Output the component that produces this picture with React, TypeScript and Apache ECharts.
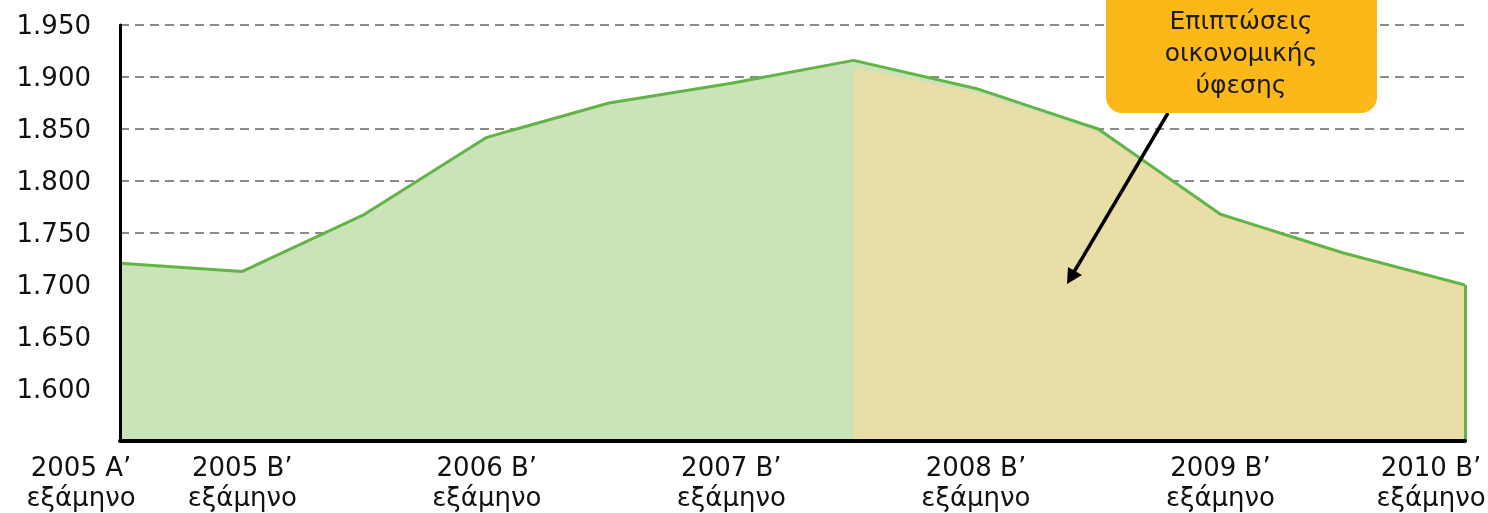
import React, { useEffect, useRef } from "react";
import * as echarts from "echarts";

const categories = [
  "2005 A’", "2005 B’", "2006 A’", "2006 B’", "2007 A’", "2007 B’",
  "2008 A’", "2008 B’", "2009 A’", "2009 B’", "2010 A’", "2010 B’",
];
const shownLabels = [0, 1, 3, 5, 7, 9, 11];
const mainValues = [1721, 1713, 1768, 1842, 1875, 1894, 1916, 1889, 1850, 1768, 1731, 1700];
const recessionValues = [null, null, null, null, null, null, 1909, 1885, 1847, 1768, 1731, 1700];
const yTicks = { min: 1550, max: 1950, interval: 50 };
const annotationLines = ["Επιπτώσεις", "οικονομικής", "ύφεσης"];

const FONT = "'DejaVu Sans', sans-serif";

function fmt(v: number) {
  const th = Math.floor(v / 1000);
  const rest = String(v % 1000).padStart(3, "0");
  return th + "." + rest;
}

export default function App() {
  const ref = useRef<HTMLDivElement>(null);
  useEffect(() => {
    if (!ref.current) return;
    const chart = echarts.init(ref.current, null, { renderer: "svg" });
    const last = categories.length - 1;
    const lbl = { fontFamily: FONT, fontSize: 26, color: "#111", lineHeight: 30 };
    chart.setOption({
      animation: false,
      grid: { left: 120, right: 23, top: 25, bottom: 72, outerBoundsMode: "none", containLabel: false },
      xAxis: [
        {
          type: "category",
          data: categories,
          boundaryGap: false,
          axisLine: { show: false },
          axisTick: { show: false },
          axisLabel: {
            interval: 0,
            hideOverlap: false,
            margin: 11,
            ...lbl,
            formatter: (v: string, i: number) => {
              if (!shownLabels.includes(i)) return "";
              if (i === 0) return "{first|" + v + "}\n{first|εξάμηνο}";
              if (i === last) return "{last|" + v + "}\n{last|εξάμηνο}";
              return "{mid|" + v + "}\n{mid|εξάμηνο}";
            },
            rich: {
              first: { ...lbl, padding: [0, 78, 0, 0] },
              last: { ...lbl, padding: [0, 68, 0, 0] },
              mid: { ...lbl },
            },
          },
          splitLine: { show: false },
        },
        {
          type: "category",
          data: categories,
          boundaryGap: false,
          position: "bottom",
          z: 10,
          axisLine: { show: true, lineStyle: { color: "#000", width: 4 } },
          axisTick: { show: false },
          axisLabel: { show: false },
          splitLine: { show: false },
        },
      ],
      yAxis: [
        {
          type: "value",
          min: yTicks.min,
          max: yTicks.max,
          interval: yTicks.interval,
          axisLine: { show: false },
          axisTick: { show: false },
          axisLabel: {
            showMinLabel: false,
            margin: 29,
            fontFamily: FONT,
            fontSize: 26,
            color: "#111",
            formatter: (v: number) => (v === yTicks.min ? "" : fmt(v)),
          },
          splitLine: { show: true, lineStyle: { color: "#8a8a8a", width: 2, type: [9, 6] } },
        },
        {
          type: "value",
          min: yTicks.min,
          max: yTicks.max,
          interval: yTicks.interval,
          position: "left",
          z: 10,
          axisLine: { show: true, lineStyle: { color: "#000", width: 3 } },
          axisTick: { show: false },
          axisLabel: { show: false },
          splitLine: { show: false },
        },
      ],
      series: [
        {
          type: "line",
          data: mainValues,
          symbol: "none",
          lineStyle: { width: 0 },
          areaStyle: { color: "#cbe3b9", opacity: 1, origin: "start" },
          z: 2,
        },
        {
          type: "line",
          data: recessionValues,
          symbol: "none",
          lineStyle: { width: 0 },
          areaStyle: { color: "#e9dea8", opacity: 1, origin: "start" },
          z: 3,
        },
        {
          type: "line",
          data: mainValues,
          symbol: "none",
          lineStyle: { width: 3, color: "#62b447" },
          z: 4,
          markLine: {
            silent: true,
            symbol: "none",
            label: { show: false },
            lineStyle: { color: "#62b447", width: 3, type: "solid" },
            data: [[{ coord: [last, yTicks.min] }, { coord: [last, mainValues[last]] }]],
          },
        },
      ],
      graphic: [
        {
          type: "line",
          z: 100,
          shape: { x1: 1168, y1: 113, x2: 1074, y2: 272 },
          style: { stroke: "#000", lineWidth: 3.5 },
        },
        {
          type: "polygon",
          z: 100,
          shape: { points: [[1067, 284], [1068, 267], [1082, 275]] },
          style: { fill: "#000" },
        },
        {
          type: "rect",
          z: 101,
          shape: { x: 1106, y: -20, width: 271, height: 133, r: 16 },
          style: { fill: "#fbb818" },
        },
        {
          type: "text",
          z: 102,
          x: 1241,
          y: 4,
          style: {
            text: annotationLines.join("\n"),
            fontFamily: FONT,
            fontSize: 25,
            lineHeight: 32,
            fill: "#1a1a1a",
            align: "center",
            verticalAlign: "top",
          },
        },
      ],
    });
    return () => chart.dispose();
  }, []);
  return <div ref={ref} style={{ position: "fixed", left: 0, top: 0, width: 1488, height: 513 }} />;
}
